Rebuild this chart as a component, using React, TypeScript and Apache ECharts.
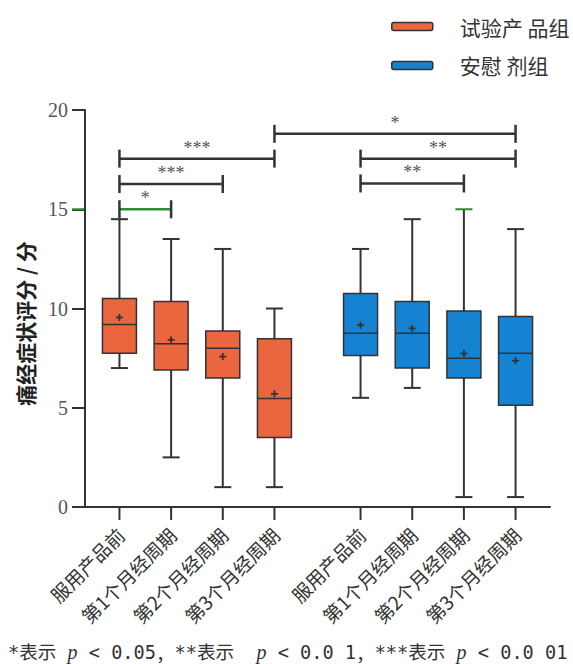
import React, { useEffect, useRef } from 'react';
import * as echarts from 'echarts';

// ---- data ----
const categories = [
  '服用产品前', '第1个月经周期', '第2个月经周期', '第3个月经周期',
  '服用产品前', '第1个月经周期', '第2个月经周期', '第3个月经周期',
];
const xPositions = [2, 5, 8, 11, 16, 19, 22, 25];
const groupNames = ['试验产 品组', '安慰 剂组'];
// [min, Q1, median, Q3, max, mean]
const productStats = [
  [7, 7.75, 9.2, 10.5, 14.5, 9.55],
  [2.5, 6.9, 8.22, 10.35, 13.5, 8.42],
  [1, 6.5, 8.0, 8.87, 13, 7.58],
  [1, 3.5, 5.47, 8.48, 10, 5.7],
];
const placeboStats = [
  [5.5, 7.63, 8.75, 10.76, 13, 9.16],
  [6, 7.0, 8.75, 10.35, 14.5, 9.0],
  [0.5, 6.5, 7.5, 9.87, 15, 7.73],
  [0.5, 5.13, 7.75, 9.6, 14, 7.37],
];
const bracketFrom = [0, 0, 0, 3, 4, 4];
const bracketTo = [1, 2, 3, 7, 7, 6];
const bracketY = [15, 16.27, 17.55, 18.8, 17.55, 16.3];
const bracketLabels = ['*', '***', '***', '*', '**', '**'];
const footnote = '*表示 {i|p} < 0.05{c|，}**表示  {i|p} < 0.0 1{c|，}***表示 {i|p} < 0.0 01';
const yAxisName = '痛经症状评分 / 分';

const ORANGE = '#E9663F';
const BLUE = '#1683D2';
const DARK = '#333333';
const GREEN = '#2E8B3A';
const CJK = '"Noto Sans CJK SC", "Noto Sans", sans-serif';
const SERIF = '"Liberation Serif", "DejaVu Serif", serif';
const MONO = '"DejaVu Sans Mono", "Noto Sans CJK SC", monospace';

function boxRenderer(offset: number, greenCap: number) {
  return (params: any, api: any) => {
    const idx = params.dataIndex + offset;
    const x = api.value(0);
    const lo = api.value(1), q1 = api.value(2), med = api.value(3), q3 = api.value(4), hi = api.value(5), mean = api.value(6);
    const [cx, yLo] = api.coord([x, lo]);
    const yQ1 = api.coord([x, q1])[1];
    const yMed = api.coord([x, med])[1];
    const yQ3 = api.coord([x, q3])[1];
    const yHi = api.coord([x, hi])[1];
    const yMean = api.coord([x, mean])[1];
    const y0 = api.coord([x, 0])[1];
    const bw = 34, cw = 17, ms = 3.5;
    const fill = api.visual('color');
    const ls = { stroke: DARK, lineWidth: 2 };
    return {
      type: 'group',
      children: [
        { type: 'line', shape: { x1: cx, y1: yQ3, x2: cx, y2: yHi }, style: ls },
        { type: 'line', shape: { x1: cx, y1: yQ1, x2: cx, y2: yLo }, style: ls },
        { type: 'line', shape: { x1: cx - cw / 2, y1: yHi, x2: cx + cw / 2, y2: yHi }, style: { stroke: idx === greenCap ? GREEN : DARK, lineWidth: 2 } },
        { type: 'line', shape: { x1: cx - cw / 2, y1: yLo, x2: cx + cw / 2, y2: yLo }, style: ls },
        { type: 'rect', shape: { x: cx - bw / 2, y: yQ3, width: bw, height: yQ1 - yQ3 }, style: { fill, stroke: DARK, lineWidth: 1.5 } },
        { type: 'line', shape: { x1: cx - bw / 2, y1: yMed, x2: cx + bw / 2, y2: yMed }, style: { stroke: DARK, lineWidth: 1.5 } },
        { type: 'line', shape: { x1: cx - ms, y1: yMean, x2: cx + ms, y2: yMean }, style: { stroke: DARK, lineWidth: 1.8 } },
        { type: 'line', shape: { x1: cx, y1: yMean - ms, x2: cx, y2: yMean + ms }, style: { stroke: DARK, lineWidth: 1.8 } },
        { type: 'line', shape: { x1: cx, y1: y0, x2: cx, y2: y0 + 13 }, style: ls },
        {
          type: 'text', x: cx + 1, y: y0 + 24, rotation: Math.PI / 4,
          style: { text: categories[idx], align: 'right', verticalAlign: 'middle', font: `19px ${CJK}`, fill: '#333' },
        },
      ],
    };
  };
}

export default function App() {
  const ref = useRef<HTMLDivElement>(null);
  useEffect(() => {
    if (!ref.current) return;
    const chart = echarts.init(ref.current, null, { renderer: 'svg' });
    const productData = productStats.map((s, i) => [xPositions[i], ...s]);
    const placeboData = placeboStats.map((s, i) => [xPositions[i + 4], ...s]);
    const bracketData = bracketY.map((y, i) => [xPositions[bracketFrom[i]], xPositions[bracketTo[i]], y, i]);

    chart.setOption({
      animation: false,
      grid: { left: 85, right: 23, top: 110, bottom: 157 },
      legend: {
        orient: 'vertical', left: 391, top: 16, padding: 0, itemWidth: 41, itemHeight: 8, itemGap: 18,
        icon: 'roundRect',
        textStyle: { fontFamily: CJK, fontSize: 21, color: '#333', padding: [0, 0, 0, 22] },
        data: [
          { name: groupNames[0], itemStyle: { color: ORANGE, borderColor: DARK, borderWidth: 1.5 } },
          { name: groupNames[1], itemStyle: { color: BLUE, borderColor: DARK, borderWidth: 1.5 } },
        ],
      },
      xAxis: {
        type: 'value', min: 0, max: 27,
        axisLine: { show: true, lineStyle: { color: DARK, width: 2 } },
        axisTick: { show: false }, axisLabel: { show: false }, splitLine: { show: false },
      },
      yAxis: {
        type: 'value', min: 0, max: 20, interval: 5,
        name: yAxisName, nameLocation: 'middle', nameGap: 50,
        nameTextStyle: { fontFamily: CJK, fontSize: 21, fontWeight: 'bold', color: '#222', padding: [0, 30, 0, 0] },
        axisLine: { show: true, lineStyle: { color: DARK, width: 2 } },
        axisTick: { show: true, length: 13, lineStyle: { color: DARK, width: 2 } },
        axisLabel: { fontFamily: SERIF, fontSize: 20, color: '#555', margin: 17 },
        splitLine: { show: false },
      },
      graphic: [
        {
          type: 'text', left: 8, top: 642,
          style: {
            text: footnote, font: `18.6px ${MONO}`, fill: '#333',
            rich: {
              i: { fontStyle: 'italic', fontFamily: SERIF, fontSize: 20, fill: '#333' },
              c: { fontFamily: CJK, fontSize: 18.6, fill: '#333' },
            },
          },
        },
      ],
      series: [
        {
          name: groupNames[0], type: 'custom', clip: false, itemStyle: { color: ORANGE },
          renderItem: boxRenderer(0, -1), data: productData, z: 3,
        },
        {
          name: groupNames[1], type: 'custom', clip: false, itemStyle: { color: BLUE },
          renderItem: boxRenderer(4, 6), data: placeboData, z: 3,
        },
        {
          type: 'custom', clip: false, silent: true, z: 4,
          data: bracketData,
          renderItem: (params: any, api: any) => {
            const i = api.value(3);
            const [xa, y] = api.coord([api.value(0), api.value(2)]);
            const xb = api.coord([api.value(1), api.value(2)])[0];
            const hs = { stroke: DARK, lineWidth: 2.5 };
            return {
              type: 'group',
              children: [
                { type: 'line', shape: { x1: xa, y1: y, x2: xb, y2: y }, style: { stroke: i === 0 ? GREEN : DARK, lineWidth: 2.5 } },
                { type: 'line', shape: { x1: xa, y1: y - 9, x2: xa, y2: y + 9 }, style: hs },
                { type: 'line', shape: { x1: xb, y1: y - 9, x2: xb, y2: y + 9 }, style: hs },
                {
                  type: 'text', x: (xa + xb) / 2, y: y - 2,
                  style: { text: bracketLabels[i], align: 'center', verticalAlign: 'bottom', font: `18px ${SERIF}`, fill: '#555' },
                },
              ],
            };
          },
        },
        {
          type: 'custom', clip: false, silent: true, z: 5,
          data: [[0, 15]],
          renderItem: (params: any, api: any) => {
            const [x, y] = api.coord([api.value(0), api.value(1)]);
            return { type: 'line', shape: { x1: x - 13, y1: y, x2: x - 1, y2: y }, style: { stroke: GREEN, lineWidth: 2 } };
          },
        },
      ],
    });
    return () => chart.dispose();
  }, []);
  return <div ref={ref} style={{ width: 573, height: 664, position: 'absolute', left: 0, top: 0 }} />;
}
